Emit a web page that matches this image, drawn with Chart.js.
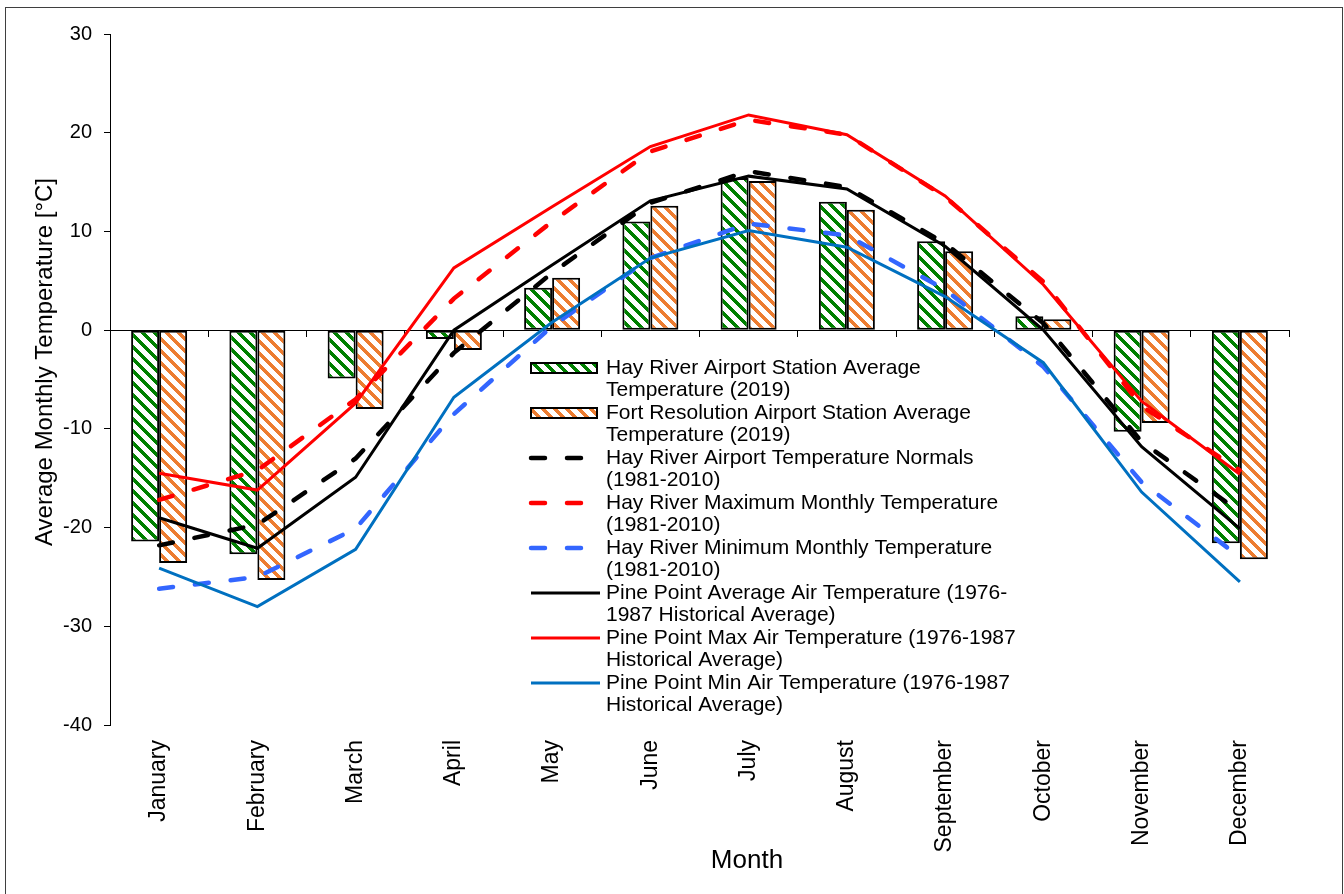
<!DOCTYPE html>
<html lang="en">
<head>
  <meta charset="UTF-8"/>
  <title>Average Monthly Temperature</title>
  <script src="https://cdn.jsdelivr.net/npm/chart.js"></script>
  <style>
    html, body { margin: 0; padding: 0; background: #fff; }
    #wrap { position: relative; width: 1344px; height: 894px; overflow: hidden; }
    #frame { position: absolute; left: 5px; top: 7px; width: 1338px; height: 900px;
             border: 1px solid #3f3f3f; box-sizing: border-box; pointer-events: none; }
  </style>
</head>
<body>
  <div id="wrap">
    <canvas id="chart" width="1344" height="894"></canvas>
    <div id="frame"></div>
  </div>

  <script>
    const months = ['January', 'February', 'March', 'April', 'May', 'June',
                    'July', 'August', 'September', 'October', 'November', 'December'];

    // 2019 station averages (bars)
    const hayRiver2019 = [-21.4, -22.7, -4.9, -0.9, 4.3, 11.0, 15.4, 13.0, 9.0, 1.4, -10.3, -21.6];
    const fortRes2019  = [-23.6, -25.3, -8.0, -2.0, 5.3, 12.6, 15.1, 12.2, 8.0, 1.1, -9.4, -23.2];

    // Hay River 1981-2010 normals (dashed lines)
    const hayNormal = [-21.8, -19.7, -13.0, -2.3, 5.8, 12.9, 16.1, 14.5, 8.8, 0.7, -11.3, -18.4];
    const hayMax    = [-17.2, -14.2, -7.0, 3.2, 11.0, 18.1, 21.3, 19.8, 13.5, 4.9, -7.7, -14.2];
    const hayMin    = [-26.2, -25.0, -20.1, -8.5, 0.4, 7.3, 10.8, 9.6, 4.1, -3.7, -15.4, -23.0];

    // Pine Point 1976-1987 historical averages (solid lines)
    const pineAvg = [-19.0, -22.1, -14.9, 0.0, 6.6, 13.1, 15.6, 14.3, 8.5, 0.0, -11.8, -20.1];
    const pineMax = [-14.5, -16.2, -7.4, 6.3, 12.5, 18.6, 21.8, 19.8, 13.6, 4.6, -7.2, -14.6];
    const pineMin = [-24.1, -28.0, -22.2, -6.8, 0.8, 7.3, 10.1, 8.4, 3.4, -3.3, -16.4, -25.5];

    const yTicks = [-40, -30, -20, -10, 0, 10, 20, 30];

    const seriesNames = [
      ['Hay River Airport Station Average', 'Temperature (2019)'],
      ['Fort Resolution Airport Station Average', 'Temperature (2019)'],
      ['Hay River Airport Temperature Normals', '(1981-2010)'],
      ['Hay River Maximum Monthly Temperature', '(1981-2010)'],
      ['Hay River Minimum Monthly Temperature', '(1981-2010)'],
      ['Pine Point Average Air Temperature (1976-', '1987 Historical Average)'],
      ['Pine Point Max Air Temperature (1976-1987', 'Historical Average)'],
      ['Pine Point Min Air Temperature (1976-1987', 'Historical Average)']
    ];

    const FONT = "'Liberation Sans', Arial, sans-serif";
    Chart.defaults.font.family = FONT;
    Chart.defaults.color = '#000';

    // Excel-like "wide downward diagonal" hatch
    function hatch(color) {
      const n = 12;
      const tile = document.createElement('canvas');
      tile.width = n; tile.height = n;
      const t = tile.getContext('2d');
      t.fillStyle = '#fff';
      t.fillRect(0, 0, n, n);
      t.fillStyle = color;
      for (let y = 0; y < n; y++) {
        for (let k = 0; k < 5; k++) t.fillRect((y + k) % n, y, 1, 1);
      }
      return t.createPattern(tile, 'repeat');
    }
    const greenHatch = hatch('#008000');
    const orangeHatch = hatch('#ED7D31');

    function barSet(i, data, fill) {
      return {
        type: 'bar', label: seriesNames[i].join(' '), data,
        backgroundColor: fill, borderColor: '#000', borderWidth: 2, borderSkipped: false,
        barPercentage: 1, categoryPercentage: 0.57, order: 20,
        xAxisID: 'x', yAxisID: 'y'
      };
    }
    function lineSet(i, data, color, dashed, order) {
      return {
        type: 'line', label: seriesNames[i].join(' '), data,
        borderColor: color, backgroundColor: color,
        borderWidth: dashed ? 4.5 : 3,
        borderDash: dashed ? [14, 22] : [],
        borderCapStyle: dashed ? 'round' : 'butt',
        fill: false, pointRadius: 0, tension: 0, order,
        xAxisID: 'x', yAxisID: 'y'
      };
    }

    const datasets = [
      barSet(0, hayRiver2019, greenHatch),
      barSet(1, fortRes2019, orangeHatch),
      lineSet(2, hayNormal, '#000000', true, 8),
      lineSet(3, hayMax, '#FF0000', true, 7),
      lineSet(4, hayMin, '#3366FF', true, 6),
      lineSet(5, pineAvg, '#000000', false, 3),
      lineSet(6, pineMax, '#FF0000', false, 2),
      lineSet(7, pineMin, '#0070C0', false, 1)
    ];

    // axis titles and the two-line legend drawn inside the plot
    const overlay = {
      id: 'overlay',
      afterDraw(chart) {
        const ctx = chart.ctx;
        ctx.save();
        ctx.fillStyle = '#000';
        ctx.textBaseline = 'middle';

        ctx.font = '24px ' + FONT;
        ctx.textAlign = 'center';
        ctx.save();
        ctx.translate(45, 362);
        ctx.rotate(-Math.PI / 2);
        ctx.fillText('Average Monthly Temperature [°C]', 0, 0);
        ctx.restore();

        ctx.font = '26px ' + FONT;
        ctx.fillText('Month', 747, 861);

        const lx = 529, ly = 368, step = 45, lineGap = 22.5;
        ctx.font = '21px ' + FONT;
        ctx.textAlign = 'left';
        chart.data.datasets.forEach((ds, i) => {
          const y = ly + i * step;
          if (ds.type === 'bar') {
            ctx.fillStyle = ds.backgroundColor;
            ctx.fillRect(lx + 1, y - 6, 68, 12);
            ctx.lineWidth = 2;
            ctx.strokeStyle = '#000';
            ctx.strokeRect(lx + 2, y - 5, 66, 10);
          } else {
            ctx.save();
            ctx.strokeStyle = ds.borderColor;
            ctx.lineWidth = ds.borderWidth;
            ctx.lineCap = ds.borderCapStyle;
            ctx.setLineDash(ds.borderDash);
            ctx.beginPath();
            ctx.moveTo(lx + 2, y);
            ctx.lineTo(lx + 71, y);
            ctx.stroke();
            ctx.restore();
          }
          ctx.fillStyle = '#000';
          seriesNames[i].forEach((t, j) => ctx.fillText(t, 606, y + j * lineGap));
        });
        ctx.restore();
      }
    };

    new Chart(document.getElementById('chart'), {
      type: 'bar',
      data: { labels: months, datasets },
      options: {
        responsive: false,
        animation: false,
        devicePixelRatio: 1,
        layout: { padding: { top: 34, right: 55, left: 0, bottom: 0 } },
        plugins: { legend: { display: false }, tooltip: { enabled: false } },
        scales: {
          x: {
            type: 'category', position: 'bottom', offset: true,
            grid: { display: false, drawTicks: false },
            border: { display: false },
            ticks: { font: { size: 23 }, color: '#000', minRotation: 90, maxRotation: 90,
                     autoSkip: false, padding: 15 },
            afterFit: (s) => { s.height = 169; }
          },
          x2: {
            type: 'category', position: { y: 0 }, offset: true,
            grid: { offset: true, drawOnChartArea: false, drawTicks: true, tickLength: 6, color: '#000' },
            border: { display: true, color: '#000', width: 1 },
            ticks: { display: false }
          },
          y: {
            type: 'linear', position: 'left', min: -40, max: 30,
            afterBuildTicks: (s) => { s.ticks = yTicks.map(v => ({ value: v })); },
            grid: { drawOnChartArea: false, drawTicks: true, tickLength: 6, color: '#000' },
            border: { display: true, color: '#000', width: 1 },
            ticks: { font: { size: 20 }, color: '#000', padding: 12 },
            afterFit: (s) => { s.width = 110; }
          }
        }
      },
      plugins: [overlay]
    });
  </script>
</body>
</html>
